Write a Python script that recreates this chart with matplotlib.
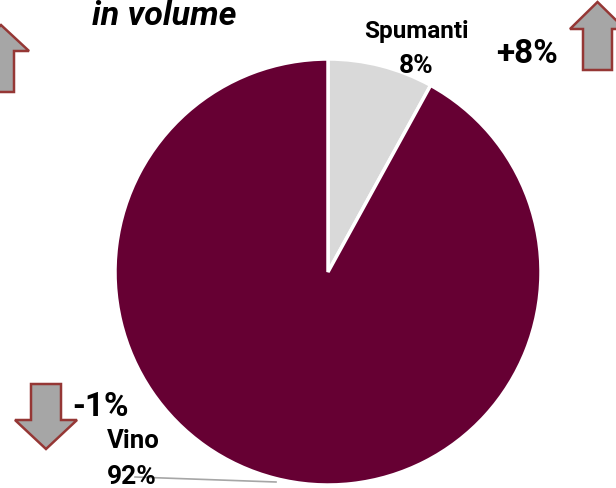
import matplotlib
matplotlib.use("Agg")
import matplotlib.pyplot as plt
from matplotlib.patches import Polygon

plt.rcParams['font.family'] = ['Roboto', 'DejaVu Sans']

# data
categories = ['Spumanti', 'Vino']
shares = [8, 92]
changes = ['+8%', '-1%']
colors = ['#D9D9D9', '#660033']

W, H = 616, 489
fig = plt.figure(figsize=(W / 100, H / 100), dpi=100)
ax = fig.add_axes([0, 0, 1, 1])

# pie (y axis is inverted, so counterclock=True draws clockwise on screen)
ax.pie(shares, colors=colors, startangle=-90, counterclock=True,
       center=(328, 273), radius=213, frame=True,
       wedgeprops=dict(edgecolor='white', linewidth=2.5))
ax.set_xlim(0, W)
ax.set_ylim(H, 0)
ax.set_aspect('equal')
ax.axis('off')


def arrow(cx, tip_y, head_y, end_y, head_hw, shaft_hw):
    pts = [(cx, tip_y), (cx + head_hw, head_y), (cx + shaft_hw, head_y),
           (cx + shaft_hw, end_y), (cx - shaft_hw, end_y),
           (cx - shaft_hw, head_y), (cx - head_hw, head_y)]
    ax.add_patch(Polygon(pts, closed=True, facecolor='#A6A6A6',
                         edgecolor='#953735', linewidth=1.8, zorder=5,
                         clip_on=False))


arrow(1, 26, 52, 93, 28, 13)
arrow(597.5, 3, 30, 71, 27.5, 14.5)
arrow(46, 450, 421, 385, 31, 15)

bold = dict(fontweight='bold', ha='center', va='baseline')
ax.text(164, 25, 'in volume', fontsize=24.5, style='italic', **bold)

ax.text(416, 38, categories[0], fontsize=17.5, **bold)
ax.text(416, 73, f'{shares[0]}%', fontsize=19, **bold)
ax.text(527, 63, changes[0], fontsize=24, **bold)

ax.text(100, 416, changes[1], fontsize=24, **bold)
ax.text(133, 448, categories[1], fontsize=18.5, **bold)
ax.text(132, 484, f'{shares[1]}%', fontsize=19, **bold)
ax.plot([135, 276], [478, 483], color='#A6A6A6', linewidth=1.2, zorder=1)

fig.savefig('out.png', dpi=100)
